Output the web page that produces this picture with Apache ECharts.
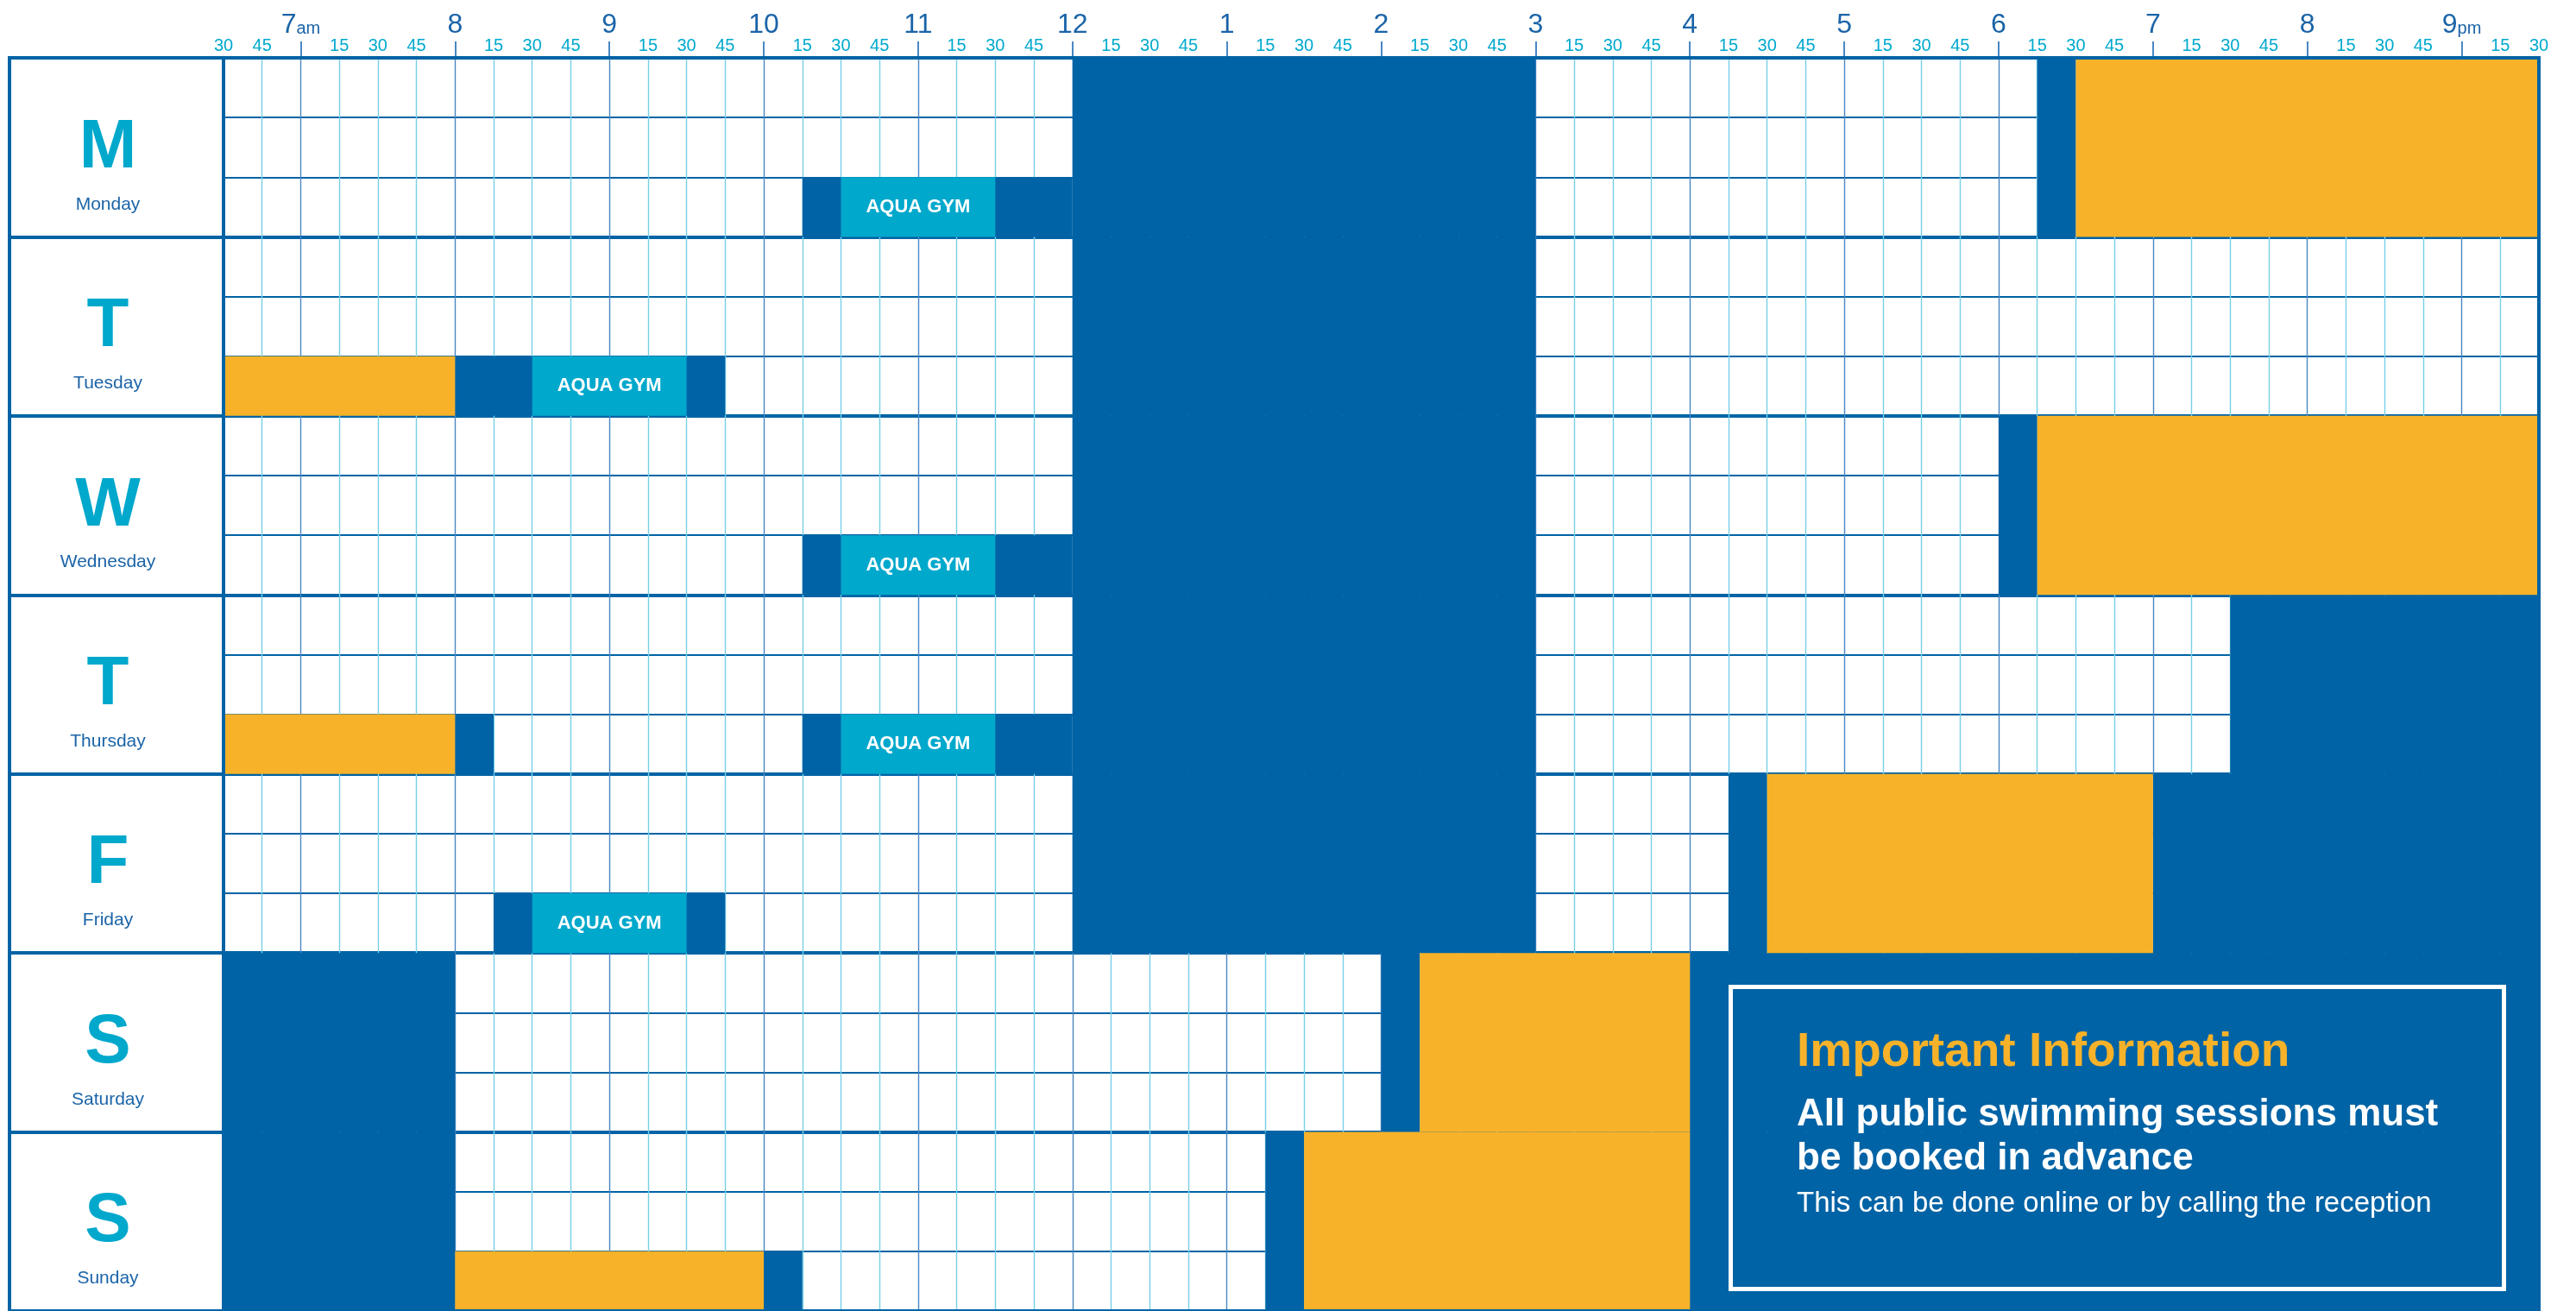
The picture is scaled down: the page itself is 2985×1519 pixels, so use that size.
<!DOCTYPE html>
<html><head><meta charset="utf-8">
<script src="https://cdn.jsdelivr.net/npm/echarts@6.0.0/dist/echarts.min.js"></script>
<style>html,body{margin:0;padding:0;background:#fff}#c{width:2985px;height:1519px}</style>
</head><body><div id="c"></div>
<script>
// ---------- data ----------
const days = ['Monday','Tuesday','Wednesday','Thursday','Friday','Saturday','Sunday'];
const dayLetters = ['M','T','W','T','F','S','S'];
const lanesPerDay = 3;
const startHour = 6.5, endHour = 21.5;
const hourTicks = [7,8,9,10,11,12,13,14,15,16,17,18,19,20,21];
// [dayIndex, firstLane, lastLane, startHour, endHour]
const closedBlocks = [
  [0,2,2,10.25,12],[0,0,2,12,15],[0,0,2,18.25,18.5],
  [1,2,2,8,9.75],[1,0,2,12,15],
  [2,2,2,10.25,12],[2,0,2,12,15],[2,0,2,18,18.25],
  [3,2,2,8,8.25],[3,2,2,10.25,12],[3,0,2,12,15],[3,0,2,19.5,21.5],
  [4,2,2,8.25,9.75],[4,0,2,12,15],[4,0,2,16.25,16.5],[4,0,2,19,21.5],
  [5,0,2,6.5,8],[5,0,2,14,14.25],[5,0,2,16,21.5],
  [6,0,2,6.5,8],[6,2,2,10,10.25],[6,0,2,13.25,13.5],[6,0,2,16,21.5]
];
const bookedBlocks = [
  [0,0,2,18.5,21.5],
  [1,2,2,6.5,8],
  [2,0,2,18.25,21.5],
  [3,2,2,6.5,8],
  [4,0,2,16.5,19],
  [5,0,2,14.25,16],
  [6,2,2,8,10],[6,0,2,13.5,16]
];
const aquaGymBlocks = [
  [0,2,2,10.5,11.5],
  [1,2,2,8.5,9.5],
  [2,2,2,10.5,11.5],
  [3,2,2,10.5,11.5],
  [4,2,2,8.5,9.5]
];
const aquaGymLabel = 'AQUA GYM';
const infoTitle = 'Important Information';
const infoLines = ['All public swimming sessions must', 'be booked in advance'];
const infoNote = 'This can be done online or by calling the reception';

// ---------- style ----------
const DARK = '#0063a5', ORANGE = '#f7b229', AQUA = '#00a8cc';
const CYAN_TEXT = '#00a9ce', LIGHT_LINE = '#78cfe7', HOUR_LINE = '#4a87c2', TEXT_BLUE = '#1b64a8';
const FONT = '"Liberation Sans", Arial, Helvetica, sans-serif';

const chart = echarts.init(document.getElementById('c'), null, {renderer:'canvas', width:2985, height:1519});

function blockRenderer(color, label) {
  return function (params, api) {
    const d = api.value(0), l0 = api.value(1), l1 = api.value(2), t0 = api.value(3), t1 = api.value(4);
    const p0 = api.coord([t0, d * lanesPerDay + l0]);
    const p1 = api.coord([t1, d * lanesPerDay + l1 + 1]);
    const el = {
      type: 'rect',
      shape: {x: p0[0], y: p0[1], width: p1[0] - p0[0], height: p1[1] - p0[1]},
      style: {fill: color}
    };
    if (label) {
      el.textContent = {style: {text: label, fill: '#fff', font: 'bold 22px ' + FONT}};
      el.textConfig = {position: 'inside'};
    }
    return el;
  };
}

const option = {
  animation: false,
  backgroundColor: '#fff',
  grid: [
    {left: 11, top: 67, width: 248, height: 1459.5, show: true, backgroundColor: '#fff', borderColor: DARK, borderWidth: 4},
    {left: 259, top: 67, width: 2683, height: 1459.5}
  ],
  xAxis: [
    {gridIndex: 0, type: 'value', min: 0, max: 1, show: false},
    {gridIndex: 1, type: 'value', min: startHour, max: endHour, interval: 0.25, position: 'top',
      axisLine: {show: false}, axisTick: {show: false},
      axisLabel: {color: CYAN_TEXT, fontSize: 20, lineHeight: 20, fontFamily: FONT, margin: 4,
        formatter: v => { const m = Math.round((v % 1) * 60); return m === 0 ? '' : String(m); }},
      splitLine: {show: true, lineStyle: {color: [LIGHT_LINE, LIGHT_LINE, HOUR_LINE, LIGHT_LINE], width: 1.4}}
    },
    {gridIndex: 1, type: 'value', min: startHour, max: endHour, interval: 0.25, position: 'top',
      axisLine: {show: false},
      axisTick: {show: true, customValues: hourTicks, length: 19, lineStyle: {color: HOUR_LINE, width: 2}},
      axisLabel: {customValues: hourTicks, margin: 22, color: TEXT_BLUE, fontFamily: FONT,
        formatter: v => {
          if (v === 7) return '{h|7}{s|am}';
          if (v === 21) return '{h|9}{s|pm}';
          return '{h|' + (v > 12 ? v - 12 : v) + '}';
        },
        rich: {
          h: {fontSize: 32, lineHeight: 32, color: TEXT_BLUE, fontFamily: FONT, verticalAlign: 'bottom'},
          s: {fontSize: 20, lineHeight: 20, color: TEXT_BLUE, fontFamily: FONT, verticalAlign: 'bottom', padding: [0,0,2,0]}
        }},
      splitLine: {show: false}
    }
  ],
  yAxis: [
    {gridIndex: 0, type: 'category', data: days, inverse: true,
      axisLine: {show: false}, axisTick: {show: false}, axisLabel: {show: false},
      splitLine: {show: true, interval: 0, lineStyle: {color: DARK, width: 4}}},
    {gridIndex: 1, type: 'value', min: 0, max: days.length * lanesPerDay, interval: 1, inverse: true,
      axisLine: {show: false}, axisTick: {show: false}, axisLabel: {show: false},
      splitLine: {show: true, lineStyle: {color: DARK, width: 2}}},
    {gridIndex: 1, type: 'value', min: 0, max: days.length, interval: 1, inverse: true,
      axisLine: {show: false}, axisTick: {show: false}, axisLabel: {show: false},
      splitLine: {show: true, lineStyle: {color: DARK, width: 4}}}
  ],
  series: [
    {
      name: 'days', type: 'custom', xAxisIndex: 0, yAxisIndex: 0,
      data: days.map((d, i) => [0.5, i]),
      renderItem: (params, api) => {
        const i = params.dataIndex;
        const c = api.coord([api.value(0), api.value(1)]);
        return {type: 'group', children: [
          {type: 'text', x: c[0] - 10, y: c[1] + 1, style: {text: dayLetters[i], fill: AQUA, font: 'bold 80px ' + FONT, align: 'center', verticalAlign: 'middle'}},
          {type: 'text', x: c[0] - 10, y: c[1] + 66, style: {text: days[i], fill: TEXT_BLUE, font: '21px ' + FONT, align: 'center', verticalAlign: 'middle'}}
        ]};
      }
    },
    {name: 'Closed', type: 'custom', xAxisIndex: 1, yAxisIndex: 1, data: closedBlocks, renderItem: blockRenderer(DARK)},
    {name: 'Booked', type: 'custom', xAxisIndex: 1, yAxisIndex: 1, data: bookedBlocks, renderItem: blockRenderer(ORANGE)},
    {name: 'Aqua gym', type: 'custom', xAxisIndex: 1, yAxisIndex: 1, data: aquaGymBlocks, renderItem: blockRenderer(AQUA, aquaGymLabel)},
    {name: 'frame', type: 'custom', xAxisIndex: 1, yAxisIndex: 1, z: 5, silent: true,
      data: [[startHour, 0, endHour, days.length * lanesPerDay]],
      renderItem: (params, api) => {
        const p0 = api.coord([api.value(0), api.value(1)]);
        const p1 = api.coord([api.value(2), api.value(3)]);
        return {type: 'rect', shape: {x: p0[0], y: p0[1], width: p1[0] - p0[0], height: p1[1] - p0[1]},
          style: {fill: 'none', stroke: DARK, lineWidth: 4}};
      }
    }
  ],
  graphic: [
    {type: 'rect', left: 2003, top: 1141, z: 10, shape: {width: 896, height: 350}, style: {fill: 'none', stroke: '#fff', lineWidth: 5}},
    {type: 'text', x: 2082, y: 1220, z: 10, style: {text: infoTitle, fill: ORANGE, font: 'bold 55px ' + FONT, verticalAlign: 'middle'}},
    {type: 'text', x: 2082, y: 1292, z: 10, style: {text: infoLines[0], fill: '#fff', font: 'bold 44px ' + FONT, verticalAlign: 'middle'}},
    {type: 'text', x: 2082, y: 1343, z: 10, style: {text: infoLines[1], fill: '#fff', font: 'bold 44px ' + FONT, verticalAlign: 'middle'}},
    {type: 'text', x: 2082, y: 1395, z: 10, style: {text: infoNote, fill: '#fff', font: '33px ' + FONT, verticalAlign: 'middle'}}
  ]
};
chart.setOption(option);
</script>
</body></html>
